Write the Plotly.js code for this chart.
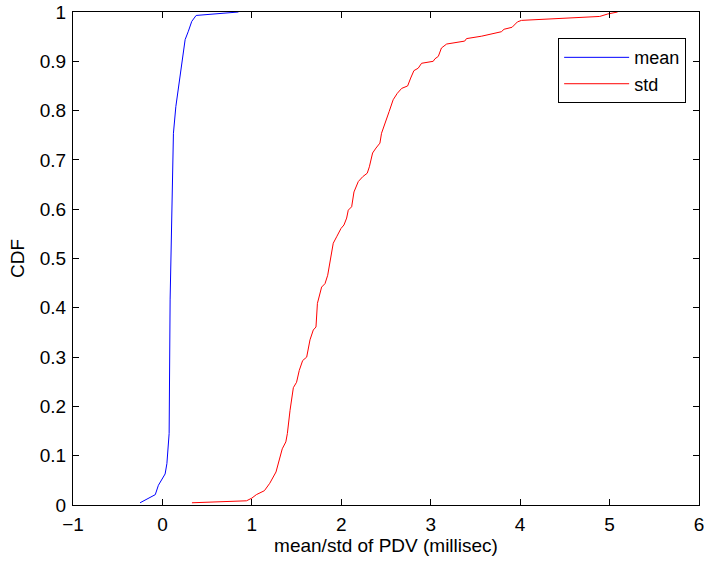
<!DOCTYPE html>
<html>
<head>
<meta charset="utf-8">
<script src="https://cdn.plot.ly/plotly-3.0.1.min.js"></script>
<style>html,body{margin:0;padding:0;background:#fff;}#chart{width:704px;height:561px;}</style>
</head>
<body>
<div id="chart"></div>
<script>
const meanX = [-0.25,-0.08,-0.045,0.01,0.03,0.05,0.068,0.075,0.086,0.105,0.123,0.15,0.19,0.224,0.254,0.29,0.328,0.377,0.496,0.85];
const meanY = [0.0045,0.021,0.04,0.055,0.063,0.084,0.131,0.145,0.416,0.617,0.754,0.808,0.862,0.904,0.944,0.961,0.981,0.993,0.995,1.0];
const stdX = [0.33,0.94,1.0,1.05,1.14,1.2,1.27,1.31,1.34,1.38,1.397,1.427,1.464,1.5,1.53,1.568,1.613,1.65,1.687,1.717,1.733,1.78,1.818,1.848,1.873,1.903,1.91,1.948,1.997,2.03,2.06,2.078,2.116,2.142,2.19,2.24,2.29,2.314,2.35,2.388,2.432,2.45,2.5,2.535,2.58,2.626,2.675,2.742,2.776,2.812,2.86,2.898,3.028,3.047,3.085,3.12,3.178,3.38,3.4,3.57,3.79,3.82,3.91,3.97,4.015,4.89,4.98,5.09];
const stdY = [0.0045,0.0085,0.014,0.021,0.029,0.044,0.067,0.097,0.114,0.128,0.145,0.192,0.238,0.249,0.273,0.293,0.300,0.335,0.355,0.361,0.409,0.442,0.449,0.466,0.490,0.517,0.531,0.544,0.561,0.568,0.582,0.598,0.605,0.635,0.656,0.666,0.673,0.686,0.714,0.724,0.734,0.754,0.778,0.798,0.822,0.835,0.845,0.850,0.866,0.881,0.886,0.896,0.900,0.905,0.910,0.927,0.935,0.941,0.946,0.951,0.960,0.965,0.969,0.980,0.983,0.991,0.996,1.0];
const xTicks = [-1,0,1,2,3,4,5,6];
const yTicks = [0,0.1,0.2,0.3,0.4,0.5,0.6,0.7,0.8,0.9,1];
const yTickText = ['0','0.1','0.2','0.3','0.4','0.5','0.6','0.7','0.8','0.9','1'];

const fontFam = '"Liberation Sans", Arial, Helvetica, sans-serif';
const FS = 19;
const traces = [
  {x: meanX, y: meanY, type: 'scatter', mode: 'lines', name: 'mean', line: {color: '#0000ff', width: 1}},
  {x: stdX, y: stdY, type: 'scatter', mode: 'lines', name: 'std', line: {color: '#ff0000', width: 1}}
];
const axisCommon = {
  showgrid: false, zeroline: false, showline: true, linecolor: '#000', linewidth: 1,
  mirror: 'allticks', ticks: 'inside', ticklen: 6, tickcolor: '#000', tickwidth: 1,
  ticklabeloverflow: 'allow',
  tickfont: {family: fontFam, size: FS, color: '#000'}
};
const layout = {
  width: 704, height: 561,
  margin: {l: 73, r: 5, t: 12, b: 56},
  paper_bgcolor: '#fff', plot_bgcolor: '#fff',
  font: {family: fontFam, size: FS, color: '#000'},
  xaxis: Object.assign({}, axisCommon, {
    range: [-1, 6], tickvals: xTicks, ticktext: xTicks.map(v => v < 0 ? '\u2212' + Math.abs(v) : String(v)),
    ticklabelstandoff: 2,
    title: {text: 'mean/std of PDV (millisec)', font: {family: fontFam, size: FS, color: '#000'}, standoff: 4}
  }),
  yaxis: Object.assign({}, axisCommon, {
    range: [0, 1], tickvals: yTicks, ticktext: yTickText,
    ticklabelstandoff: 2,
    title: {text: 'CDF', font: {family: fontFam, size: FS, color: '#000'}, standoff: 10}
  }),
  showlegend: true,
  legend: {
    x: 0.775, y: 0.947, xanchor: 'left', yanchor: 'top',
    bordercolor: '#000', borderwidth: 1, bgcolor: '#fff',
    font: {family: fontFam, size: 18, color: '#000'},
    itemwidth: 65, tracegroupgap: 0
  }
};
Plotly.newPlot('chart', traces, layout, {displayModeBar: false, staticPlot: true});
</script>
</body>
</html>
